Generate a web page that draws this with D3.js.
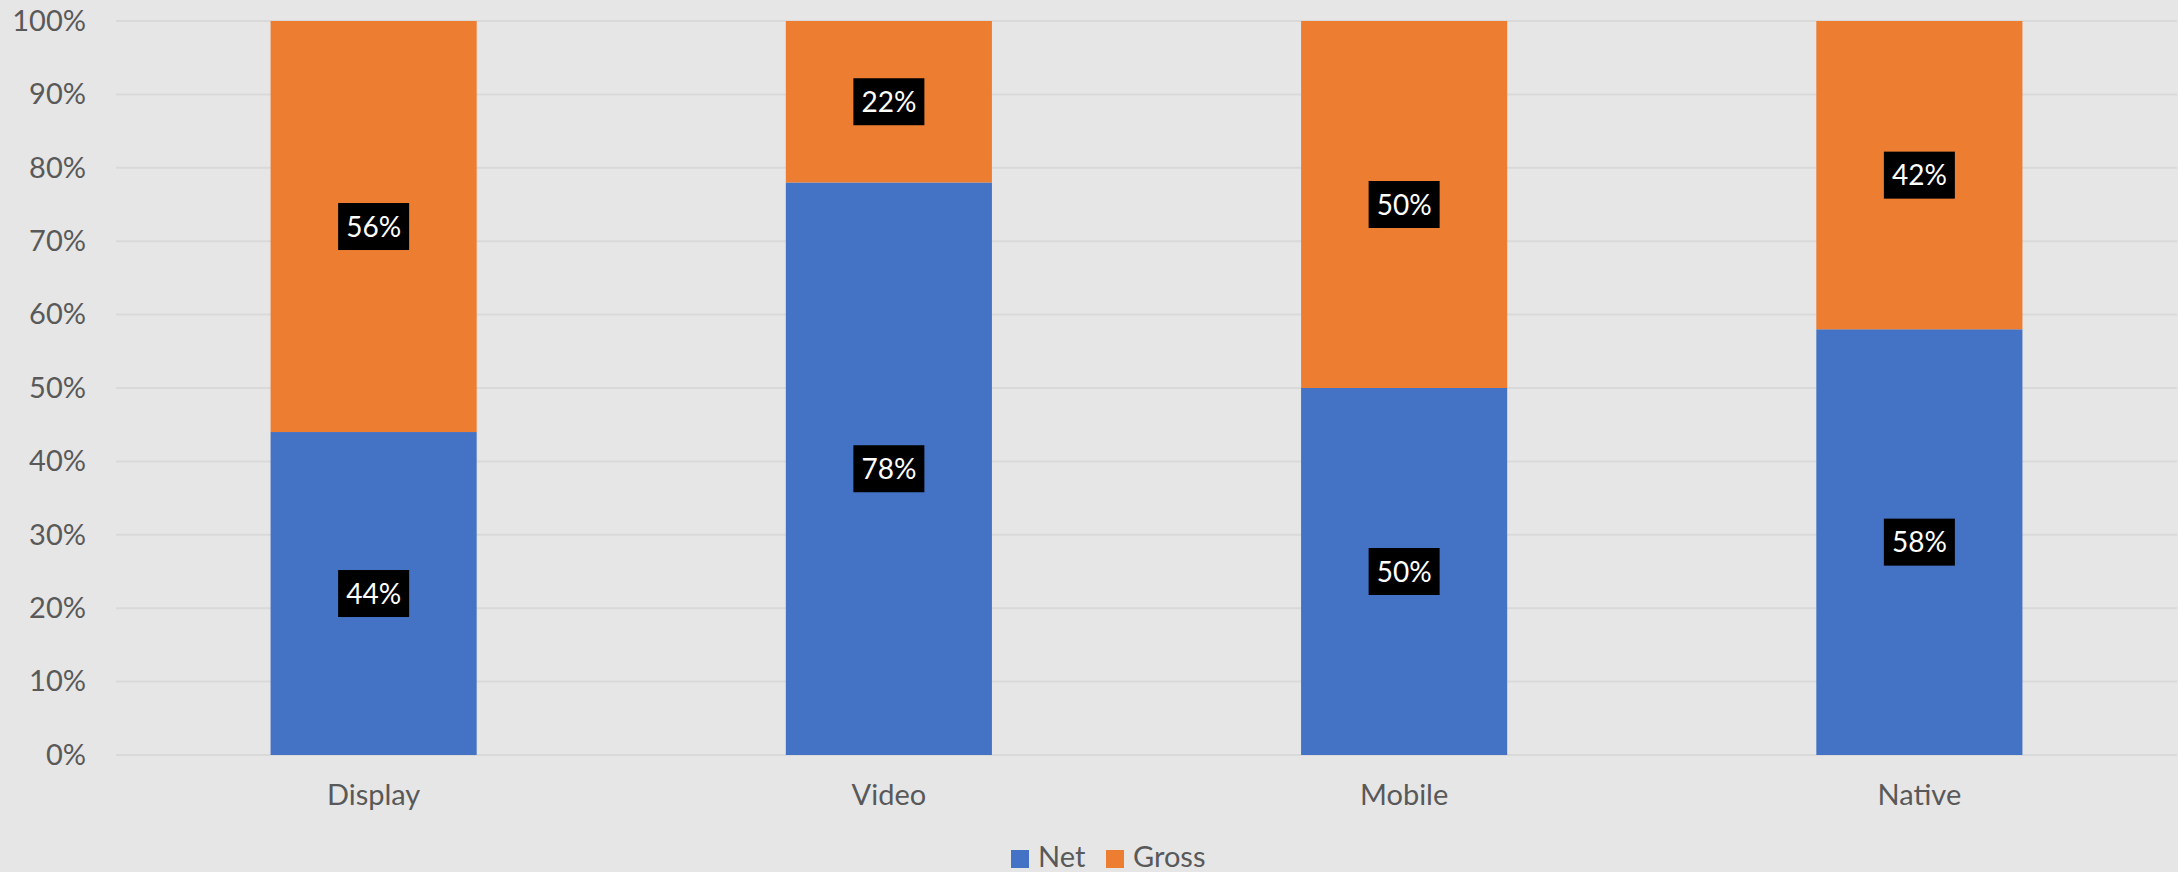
<!DOCTYPE html>
<html>
<head>
<meta charset="utf-8">
<script src="https://cdn.jsdelivr.net/npm/d3@7"></script>
<style>
  html, body { margin: 0; padding: 0; background: #e6e6e6; }
  svg { display: block; }
</style>
</head>
<body>
<svg id="chart" width="2178" height="872"></svg>
<script>
// Share of spend by ad format, split into net and gross
const categories = ["Display", "Video", "Mobile", "Native"];
const netValues = [44, 78, 50, 58];
const grossValues = [56, 22, 50, 42];
const seriesNames = ["Net", "Gross"];
const yTicks = [0, 10, 20, 30, 40, 50, 60, 70, 80, 90, 100];

const colors = { Net: "#4472c4", Gross: "#ed7d31" };
const textColor = "#595959";
const fontFamily = "Lato, 'Open Sans', sans-serif";

const svg = d3.select("#chart");
const W = 2178, H = 872;
const margin = { top: 21, right: 1, bottom: 117, left: 116 };
const innerW = W - margin.left - margin.right;
const innerH = H - margin.top - margin.bottom;

svg.append("rect").attr("width", W).attr("height", H).attr("fill", "#e6e6e6");

const g = svg.append("g").attr("transform", `translate(${margin.left},${margin.top})`);

const x = d3.scaleBand().domain(categories).range([0, innerW])
  .paddingInner(0.6).paddingOuter(0.3);
const y = d3.scaleLinear().domain([0, 100]).range([innerH, 0]);

// Horizontal gridlines
g.append("g").selectAll("line").data(yTicks).join("line")
  .attr("x1", 0).attr("x2", innerW)
  .attr("y1", d => y(d)).attr("y2", d => y(d))
  .attr("stroke", "#d9d9d9").attr("stroke-width", 2);

// Y axis labels
const yAxis = d3.axisLeft(y).tickValues(yTicks).tickFormat(d => d + "%").tickSize(0).tickPadding(30);
const ya = g.append("g").call(yAxis);
ya.select(".domain").remove();
ya.selectAll("text").attr("fill", textColor).style("font-family", fontFamily).style("font-size", "29px");

// X axis labels
const xAxis = d3.axisBottom(x).tickSize(0).tickPadding(29);
const xa = g.append("g").attr("transform", `translate(0,${innerH})`).call(xAxis);
xa.select(".domain").remove();
xa.selectAll("text").attr("fill", textColor).style("font-family", fontFamily).style("font-size", "29px");

// Stacked data
const rows = categories.map((c, i) => ({ category: c, Net: netValues[i], Gross: grossValues[i] }));
const stack = d3.stack().keys(seriesNames)(rows);

const layers = g.append("g").selectAll("g").data(stack).join("g")
  .attr("fill", d => colors[d.key]);

layers.selectAll("rect").data(d => d).join("rect")
  .attr("x", d => x(d.data.category))
  .attr("width", x.bandwidth())
  .attr("y", d => y(d[1]))
  .attr("height", d => y(d[0]) - y(d[1]));

// Value labels in black boxes
const labels = g.append("g");
stack.forEach(layer => {
  layer.forEach(d => {
    const cx = x(d.data.category) + x.bandwidth() / 2;
    const cy = (y(d[0]) + y(d[1])) / 2;
    const val = d[1] - d[0];
    const lg = labels.append("g").attr("transform", `translate(${cx},${cy})`);
    lg.append("rect").attr("x", -35.5).attr("y", -23.5).attr("width", 71).attr("height", 47).attr("fill", "#000");
    lg.append("text").attr("text-anchor", "middle").attr("dy", "0.36em")
      .attr("fill", "#fff").style("font-family", fontFamily).style("font-size", "28px")
      .text(val + "%");
  });
});

// Legend
const legend = svg.append("g").attr("transform", "translate(1011,850)");
const legendItems = [{ name: "Net", x: 0 }, { name: "Gross", x: 95 }];
legendItems.forEach(it => {
  const lgi = legend.append("g").attr("transform", `translate(${it.x},0)`);
  lgi.append("rect").attr("width", 18).attr("height", 18).attr("fill", colors[it.name]);
  lgi.append("text").attr("x", 27).attr("y", 17).attr("fill", textColor)
    .style("font-family", fontFamily).style("font-size", "29px").text(it.name);
});
</script>
</body>
</html>
